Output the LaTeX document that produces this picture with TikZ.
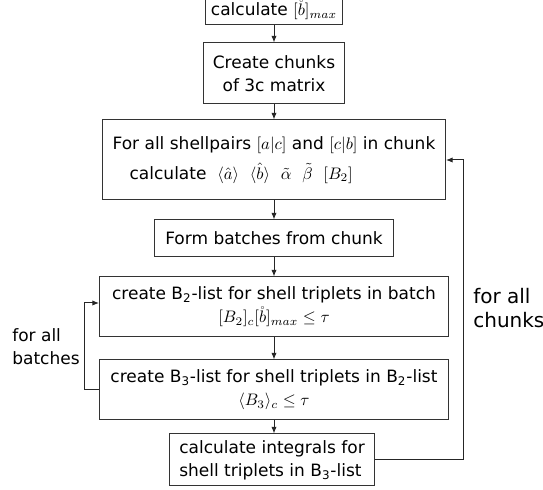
\documentclass[tikz,border=0pt]{standalone}
\usepackage[no-math]{fontspec}
\setmainfont{DejaVu Sans}
\usepackage{amsmath}
\usetikzlibrary{arrows.meta,positioning,calc}

\begin{document}
\begin{tikzpicture}[
  x=0.6pt,y=-0.6pt,
  font=\fontsize{10.2}{13.8}\selectfont,
  flow/.style={draw=black!80,line width=0.6pt,align=center,inner sep=2pt},
  arrow/.style={-{Latex[length=4pt,width=3.2pt]},draw=black!85,line width=0.6pt},
  looptext/.style={align=left,anchor=west,inner sep=0pt}
]
\useasboundingbox (0,0) rectangle (543,490);
\node[flow,minimum width=82.2pt,minimum height=18pt] (bmax) at (274,10) {calculate $[\mathring{b}]_{max}$};
\node[flow,minimum width=84.6pt,minimum height=36.6pt] (chunks) at (274,73.5) {Create chunks\\of 3c matrix};
\node[flow,minimum width=205.8pt,minimum height=48pt,align=left] (shells) at (274,160) {For all shellpairs $[a|c]$ and $[c|b]$ in chunk\\[4pt]\quad calculate $\ \langle\hat{a}\rangle\ \ \langle\hat{b}\rangle\ \ \tilde{\alpha}\ \ \tilde{\beta}\ \ [B_2]$};
\node[flow,minimum width=143.4pt,minimum height=22.2pt] (batches) at (274,238.5) {Form batches from chunk};
\node[flow,minimum width=209.4pt,minimum height=36pt] (blist2) at (274,307) {create B\textsubscript{2}-list for shell triplets in batch\\$[B_2]_c[\mathring{b}]_{max}\leq\tau$};
\node[flow,minimum width=209.4pt,minimum height=36pt] (blist3) at (274,390) {create B\textsubscript{3}-list for shell triplets in B\textsubscript{2}-list\\$\langle B_3\rangle_c\leq\tau$};
\node[flow,minimum width=123.6pt,minimum height=31.2pt,align=left] (integrals) at (272,460) {calculate integrals for\\shell triplets in B\textsubscript{3}-list};
\draw[arrow] (bmax) -- (chunks);
\draw[arrow] (chunks) -- (shells);
\draw[arrow] (shells) -- (batches);
\draw[arrow] (batches) -- (blist2);
\draw[arrow] (blist2) -- (blist3);
\draw[arrow] (blist3) -- (blist3 |- integrals.north);
% loops
\coordinate (batchloop) at (84,303);
\coordinate (chunkloop) at (463,160);
\draw[arrow] (blist3.west) -| (batchloop) -- (batchloop -| blist2.west);
\draw[arrow] (integrals.east) -| (chunkloop) -- (shells.east);
\node[looptext] (batchtext) at (12,347) {for all\\batches};
\node[looptext,font=\fontsize{12}{14}\selectfont] (chunktext) at (473,308) {for all\\chunks};
\end{tikzpicture}
\end{document}
